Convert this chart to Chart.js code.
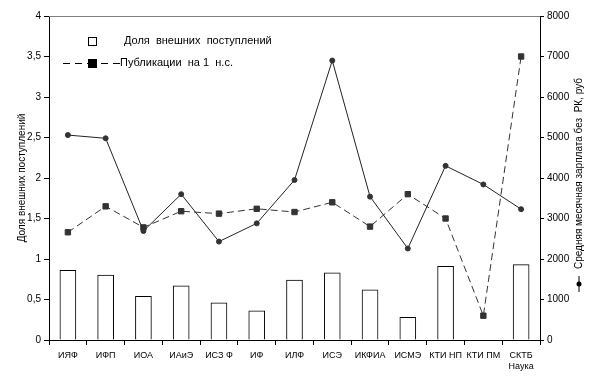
<!DOCTYPE html>
<html>
<head>
<meta charset="utf-8">
<script src="https://cdn.jsdelivr.net/npm/chart.js@4/dist/chart.umd.min.js"></script>
<style>
  html, body { margin: 0; padding: 0; background: #fff; }
</style>
</head>
<body>
<canvas id="chart" width="595" height="384"></canvas>
<script>
// chart data
const categories = ['ИЯФ', 'ИФП', 'ИОА', 'ИАиЭ', 'ИСЗ Ф', 'ИФ', 'ИЛФ', 'ИСЭ', 'ИКФИА', 'ИСМЭ', 'КТИ НП', 'КТИ ПМ', ['СКТБ', 'Наука']];
const externalShare = [0.86, 0.80, 0.54, 0.67, 0.46, 0.36, 0.74, 0.83, 0.62, 0.28, 0.91, null, 0.93];
const publications = [1.33, 1.65, 1.39, 1.59, 1.56, 1.62, 1.58, 1.70, 1.40, 1.80, 1.50, 0.30, 3.50];
const salary = [5060, 4980, 2690, 3600, 2430, 2880, 3950, 6900, 3540, 2260, 4300, 3840, 3230];
const leftTicks = [0, 0.5, 1, 1.5, 2, 2.5, 3, 3.5, 4];
const rightTicks = [0, 1000, 2000, 3000, 4000, 5000, 6000, 7000, 8000];

const FONT = 'Liberation Sans, Arial, sans-serif';

// legend, axis titles and the top frame line
const decorPlugin = {
  id: 'decor',
  afterDraw(chart) {
    const ctx = chart.ctx;
    const area = chart.chartArea;
    ctx.save();

    // grey line on top of the plot
    ctx.strokeStyle = '#808080';
    ctx.lineWidth = 1;
    ctx.beginPath();
    ctx.moveTo(area.left, area.top + 0.5);
    ctx.lineTo(area.right, area.top + 0.5);
    ctx.stroke();

    ctx.fillStyle = '#000';
    ctx.strokeStyle = '#000';
    ctx.textBaseline = 'middle';

    // legend
    ctx.font = '11px ' + FONT;
    ctx.fillStyle = '#fff';
    ctx.fillRect(88.5, 37.5, 8, 8);
    ctx.strokeRect(88.5, 37.5, 8, 8);
    ctx.fillStyle = '#000';
    ctx.textAlign = 'left';
    ctx.fillText('Доля  внешних  поступлений', 124, 41);

    ctx.setLineDash([7, 5]);
    ctx.beginPath();
    ctx.moveTo(63, 63.5);
    ctx.lineTo(88, 63.5);
    ctx.moveTo(101, 63.5);
    ctx.lineTo(120, 63.5);
    ctx.stroke();
    ctx.setLineDash([]);
    ctx.fillRect(88, 59, 9, 9);
    ctx.fillText('Публикации  на 1  н.с.', 120, 63);

    // left axis title
    ctx.font = '10px ' + FONT;
    ctx.save();
    ctx.translate(22, 178);
    ctx.rotate(-Math.PI / 2);
    ctx.textAlign = 'center';
    ctx.fillText('Доля внешних поступлений', 0, 0);
    ctx.restore();

    // right axis title with series marker
    ctx.save();
    ctx.translate(579, 284);
    ctx.rotate(-Math.PI / 2);
    ctx.beginPath();
    ctx.moveTo(-8, 0);
    ctx.lineTo(8, 0);
    ctx.stroke();
    ctx.beginPath();
    ctx.arc(0, 0, 2.5, 0, Math.PI * 2);
    ctx.fill();
    ctx.textAlign = 'left';
    ctx.fillText('Средняя месячная зарплата без  РК, руб', 15, 0);
    ctx.restore();

    ctx.restore();
  }
};

const ctx = document.getElementById('chart').getContext('2d');
const chart = new Chart(ctx, {
  type: 'bar',
  data: {
    labels: categories,
    datasets: [
      {
        type: 'line',
        label: 'Средняя месячная зарплата без РК, руб',
        data: salary,
        yAxisID: 'y1',
        borderColor: '#222',
        borderWidth: 1,
        pointStyle: 'circle',
        pointRadius: 2.5,
        pointBackgroundColor: '#333',
        pointBorderColor: '#333',
        tension: 0,
        order: 1,
      },
      {
        type: 'line',
        label: 'Публикации на 1 н.с.',
        data: publications,
        yAxisID: 'y',
        borderColor: '#333',
        borderWidth: 1,
        borderDash: [7, 4],
        pointStyle: 'rect',
        pointRadius: 3.8,
        pointBackgroundColor: '#333',
        pointBorderColor: '#333',
        tension: 0,
        order: 2,
      },
      {
        type: 'bar',
        label: 'Доля внешних поступлений',
        data: externalShare,
        yAxisID: 'y',
        backgroundColor: '#fff',
        borderColor: '#000',
        borderWidth: 1,
        barThickness: 16,
        order: 3,
      },
    ],
  },
  options: {
    responsive: false,
    animation: false,
    devicePixelRatio: 1,
    layout: { padding: { top: 16, left: 0, right: 0, bottom: 0 } },
    plugins: {
      legend: { display: false },
      tooltip: { enabled: false },
    },
    scales: {
      x: {
        grid: { display: true, drawOnChartArea: false, offset: true, tickLength: 5, color: '#000' },
        border: { color: '#000' },
        ticks: { color: '#000', font: { family: FONT, size: 9 }, maxRotation: 0, autoSkip: false, padding: 5 },
        afterFit(scale) { scale.height = 44; },
      },
      y: {
        position: 'left',
        min: 0,
        max: 4,
        afterBuildTicks(scale) { scale.ticks = leftTicks.map(v => ({ value: v })); },
        ticks: {
          color: '#000',
          font: { family: FONT, size: 10 },
          padding: 3,
          callback: v => String(v).replace('.', ','),
        },
        grid: { drawOnChartArea: false, tickLength: 5, color: '#000' },
        border: { color: '#000' },
        afterFit(scale) { scale.width = 49; },
      },
      y1: {
        position: 'right',
        min: 0,
        max: 8000,
        afterBuildTicks(scale) { scale.ticks = rightTicks.map(v => ({ value: v })); },
        ticks: { color: '#000', font: { family: FONT, size: 10 }, padding: 3, callback: v => String(v) },
        grid: { drawOnChartArea: false, tickLength: 4, color: '#000' },
        border: { color: '#000' },
        afterFit(scale) { scale.width = 55; },
      },
    },
  },
  plugins: [decorPlugin],
});
</script>
</body>
</html>
